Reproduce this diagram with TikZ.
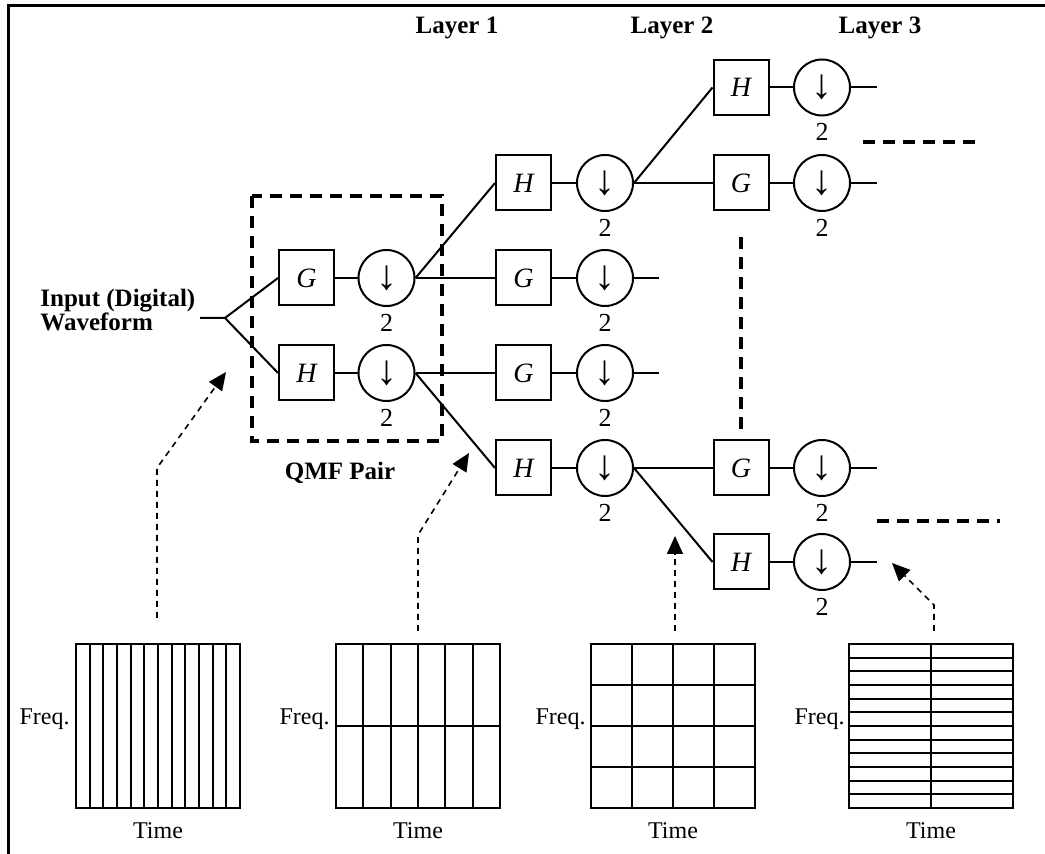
\documentclass[tikz,border=0pt]{standalone}
\usepackage{fontspec}
\setmainfont{Liberation Serif}
\usetikzlibrary{arrows.meta}
\begin{document}
\begin{tikzpicture}[x=0.5pt,y=-0.5pt,
  filt/.style={draw, line width=1pt, minimum width=27.5pt, minimum height=27.5pt, inner sep=0pt, font=\fontsize{14}{16}\selectfont\itshape},
  dsamp/.style={draw, circle, line width=1pt, minimum size=28pt, inner sep=0pt, font=\fontsize{21}{22}\selectfont,
     label={[font=\fontsize{13}{14}\selectfont, inner sep=0pt, label distance=3.4pt]below:2}},
  lbl/.style={font=\fontsize{12}{13}\selectfont, inner sep=0pt},
  wire/.style={line width=1pt},
  bigdash/.style={line width=2pt, dash pattern=on 6pt off 4pt},
  ptr/.style={line width=0.8pt, dash pattern=on 3pt off 2.5pt, -{Triangle[length=9pt,width=8pt]}},
  gridline/.style={line width=1.1pt},
  head/.style={font=\fontsize{12.5}{12.5}\selectfont\bfseries, inner sep=0pt}
]
\useasboundingbox (0,0) rectangle (1045,854);
% frame
\draw[line width=1.5pt] (8,854) -- (8,5.5) -- (1045,5.5);

% headings
\node[head] (l1) at (457,28) {Layer 1};
\node[head] (l2) at (672,28) {Layer 2};
\node[head] (l3) at (880,28) {Layer 3};

% input
\node[head, align=left, anchor=west, font=\fontsize{12.5}{12}\selectfont\bfseries] (inp) at (40,310) {Input (Digital)\\Waveform};
\coordinate (in) at (200,318);
\coordinate (br) at (225,318);

% QMF pair
\node[filt] (g0) at (306.5,278) {G};
\node[dsamp] (c0) at (386.5,278) {\raisebox{-1pt}{↓}};
\node[filt] (h0) at (306.5,373) {H};
\node[dsamp] (d0) at (386.5,373) {\raisebox{-1pt}{↓}};
\draw[bigdash] (252,196) rectangle (442,441);
\node[head] (qmf) at (340,473) {QMF Pair};

% layer 1 outputs
\node[filt] (h1) at (523.5,183) {H};
\node[dsamp] (c1) at (605,183) {\raisebox{-1pt}{↓}};
\node[filt] (g1) at (523.5,278) {G};
\node[dsamp] (c2) at (605,278) {\raisebox{-1pt}{↓}};
\node[filt] (g2) at (523.5,373) {G};
\node[dsamp] (c3) at (605,373) {\raisebox{-1pt}{↓}};
\node[filt] (h2) at (523.5,468) {H};
\node[dsamp] (c4) at (605,468) {\raisebox{-1pt}{↓}};

% layer 3
\node[filt] (h3) at (741,87.5) {H};
\node[dsamp] (c5) at (822,87.5) {\raisebox{-1pt}{↓}};
\node[filt] (g3) at (741,183) {G};
\node[dsamp] (c6) at (822,183) {\raisebox{-1pt}{↓}};
\node[filt] (g4) at (741,468) {G};
\node[dsamp] (c7) at (822,468) {\raisebox{-1pt}{↓}};
\node[filt] (h4) at (741,562) {H};
\node[dsamp] (c8) at (822,562) {\raisebox{-1pt}{↓}};

\coordinate (o2) at (659,278);
\coordinate (o3) at (659,373);
\coordinate (o5) at (877,87.5);
\coordinate (o6) at (877,183);
\coordinate (o7) at (877,468);
\coordinate (o8) at (877,562);

% wires
\draw[wire] (in) -- (br) -- (g0.west);
\draw[wire] (br) -- (h0.west);
\foreach \b/\c in {g0/c0,h0/d0,h1/c1,g1/c2,g2/c3,h2/c4,h3/c5,g3/c6,g4/c7,h4/c8}
  \draw[wire] (\b.east) -- (\c.west);
\draw[wire] (c0.east) -- (h1.west);
\draw[wire] (c0.east) -- (g1.west);
\draw[wire] (d0.east) -- (g2.west);
\draw[wire] (d0.east) -- (h2.west);
\draw[wire] (c1.east) -- (h3.west);
\draw[wire] (c1.east) -- (g3.west);
\draw[wire] (c4.east) -- (g4.west);
\draw[wire] (c4.east) -- (h4.west);
\draw[wire] (c2.east) -- (o2);
\draw[wire] (c3.east) -- (o3);
\draw[wire] (c5.east) -- (o5);
\draw[wire] (c6.east) -- (o6);
\draw[wire] (c7.east) -- (o7);
\draw[wire] (c8.east) -- (o8);

% continuation dashes
\draw[bigdash] (741,237) -- (741,431);
\draw[bigdash] (863,142) -- (975,142);
\draw[bigdash] (877,521) -- (1000,521);

% grids
\draw[gridline] (76,644) rectangle (240,808);
\foreach \i in {1,...,11} \draw[gridline] ({76+\i*164/12},644) -- ++(0,164);
\draw[gridline] (336,644) rectangle (500,808);
\foreach \i in {1,...,5} \draw[gridline] ({336+\i*164/6},644) -- ++(0,164);
\draw[gridline] (336,726) -- (500,726);
\draw[gridline] (591,644) rectangle (755,808);
\foreach \i in {1,2,3} {\draw[gridline] ({591+\i*41},644) -- ++(0,164);
  \draw[gridline] (591,{644+\i*41}) -- ++(164,0);}
\draw[gridline] (849,644) rectangle (1013,808);
\draw[gridline] (931,644) -- (931,808);
\foreach \i in {1,...,11} \draw[gridline] (849,{644+\i*164/12}) -- ++(164,0);

% axis labels
\foreach \xr/\xc/\n in {70/158/1, 330/418/2, 586/673/3, 845/931/4} {
  \node[lbl, anchor=east] (f\n) at (\xr,719) {Freq.};
  \node[lbl] (t\n) at (\xc,831) {Time};
}

% pointer arrows
\coordinate (s1) at (157,618);
\coordinate (k1) at (157,468);
\coordinate (e1) at (226,372);
\coordinate (s2) at (418,631);
\coordinate (k2) at (418,535);
\coordinate (e2) at (469,453);
\coordinate (s3) at (675,631);
\coordinate (e3) at (675,536);
\coordinate (s4) at (934,631);
\coordinate (k4) at (934,605);
\coordinate (e4) at (892,563);
\draw[ptr] (s1) -- (k1) -- (e1);
\draw[ptr] (s2) -- (k2) -- (e2);
\draw[ptr] (s3) -- (e3);
\draw[ptr] (s4) -- (k4) -- (e4);
\end{tikzpicture}
\end{document}
